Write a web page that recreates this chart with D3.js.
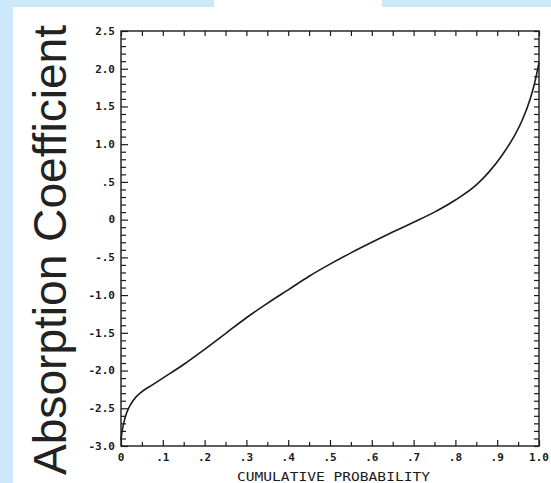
<!DOCTYPE html>
<html>
<head>
<meta charset="utf-8">
<script src="https://cdn.jsdelivr.net/npm/d3@7"></script>
<style>
  body { margin: 0; background: #fff; }
  svg { display: block; }
</style>
</head>
<body>
<div id="chart"></div>
<script>
// cumulative probability vs absorption coefficient
const prob = [0, 0.002, 0.01, 0.02, 0.03, 0.05, 0.075, 0.10, 0.15, 0.20, 0.25, 0.30, 0.35, 0.40, 0.45,
              0.50, 0.55, 0.60, 0.65, 0.70, 0.75, 0.80, 0.85, 0.88, 0.91, 0.94, 0.96, 0.98, 0.99, 1.0];
const coef = [-2.92, -2.83, -2.62, -2.48, -2.39, -2.28, -2.19, -2.10, -1.92, -1.72, -1.51, -1.30, -1.11, -0.93, -0.75,
              -0.59, -0.44, -0.30, -0.165, -0.035, 0.10, 0.26, 0.46, 0.63, 0.84, 1.10, 1.32, 1.62, 1.82, 2.08];
const xTicks = [0, .1, .2, .3, .4, .5, .6, .7, .8, .9, 1.0];
const xTickLabels = ["0", ".1", ".2", ".3", ".4", ".5", ".6", ".7", ".8", ".9", "1.0"];
const yTicks = [2.5, 2.0, 1.5, 1.0, 0.5, 0, -0.5, -1.0, -1.5, -2.0, -2.5, -3.0];
const yTickLabels = ["2.5", "2.0", "1.5", "1.0", ".5", "0", "-.5", "-1.0", "-1.5", "-2.0", "-2.5", "-3.0"];

const width = 551, height = 483;
const margins = {top: 31, right: 12, bottom: 37, left: 121};
const blue = "#cbe9fb";

const svg = d3.select("#chart")
    .append("svg")
    .attr("width", width)
    .attr("height", height);

/* background strips of the scanned page */
svg.append("rect").attr("x", 0).attr("y", 0).attr("width", 13).attr("height", height).attr("fill", blue);
svg.append("rect").attr("x", 0).attr("y", 0).attr("width", 214).attr("height", 7).attr("fill", blue);
svg.append("rect").attr("x", 382).attr("y", 0).attr("width", width - 382).attr("height", 7).attr("fill", blue);

const xScale = d3.scaleLinear()
    .domain([0, 1])
    .range([margins.left, width - margins.right]);
const yScale = d3.scaleLinear()
    .domain([-3, 2.5])
    .range([height - margins.bottom, margins.top]);

const ink = "#1a1a1a";
const monoFont = "'DejaVu Sans Mono', monospace";

// inward ticks on all four sides
const xMinor = d3.range(0, 1.0001, 0.05);
const yMinor = d3.range(-3, 2.5001, 0.1);

const bottomAxis = d3.axisTop(xScale).tickValues(xMinor).tickSize(4).tickFormat("");
svg.append("g")
    .attr("transform", `translate(0,${yScale(-3)})`)
    .call(bottomAxis)
    .call(g => g.select(".domain").remove())
    .call(g => g.selectAll(".tick line")
        .attr("y2", (d, i) => i % 2 === 0 ? -6 : -4)
        .attr("stroke", ink).attr("stroke-width", 1.2));

const topAxis = d3.axisBottom(xScale).tickValues(xMinor).tickSize(5).tickFormat("");
svg.append("g")
    .attr("transform", `translate(0,${yScale(2.5)})`)
    .call(topAxis)
    .call(g => g.select(".domain").remove())
    .call(g => g.selectAll(".tick line").attr("stroke", ink).attr("stroke-width", 1.2));

const leftAxis = d3.axisRight(yScale).tickValues(yMinor).tickSize(5).tickFormat("");
svg.append("g")
    .attr("transform", `translate(${xScale(0)},0)`)
    .call(leftAxis)
    .call(g => g.select(".domain").remove())
    .call(g => g.selectAll(".tick line")
        .attr("x2", (d, i) => i % 5 === 0 ? 7 : 5)
        .attr("stroke", ink).attr("stroke-width", 1.2));

const rightAxis = d3.axisLeft(yScale).tickValues(yMinor).tickSize(5).tickFormat("");
svg.append("g")
    .attr("transform", `translate(${xScale(1)},0)`)
    .call(rightAxis)
    .call(g => g.select(".domain").remove())
    .call(g => g.selectAll(".tick line").attr("stroke", ink).attr("stroke-width", 1.2));

// frame
svg.append("rect")
    .attr("x", xScale(0))
    .attr("y", yScale(2.5))
    .attr("width", xScale(1) - xScale(0))
    .attr("height", yScale(-3) - yScale(2.5))
    .attr("fill", "none")
    .attr("stroke", ink)
    .attr("stroke-width", 1.4);

// tick labels
svg.append("g")
    .selectAll("text")
    .data(yTicks)
    .join("text")
    .attr("x", xScale(0) - 6)
    .attr("y", d => yScale(d))
    .attr("dy", "0.35em")
    .attr("text-anchor", "end")
    .style("font-family", monoFont)
    .style("font-weight", "bold")
    .style("font-size", "11px")
    .style("fill", ink)
    .text((d, i) => yTickLabels[i]);

svg.append("g")
    .selectAll("text")
    .data(xTicks)
    .join("text")
    .attr("x", d => xScale(d))
    .attr("y", yScale(-3) + 15)
    .attr("text-anchor", "middle")
    .style("font-family", monoFont)
    .style("font-weight", "bold")
    .style("font-size", "11px")
    .style("fill", ink)
    .text((d, i) => xTickLabels[i]);

// axis titles
svg.append("text")
    .attr("x", 237)
    .attr("y", 481)
    .attr("textLength", 193)
    .attr("lengthAdjust", "spacingAndGlyphs")
    .style("font-family", monoFont)
    .style("font-size", "12px")
    .style("fill", ink)
    .text("CUMULATIVE PROBABILITY");

svg.append("text")
    .attr("transform", "translate(66,475) rotate(-90)")
    .attr("x", 0)
    .attr("y", 0)
    .attr("textLength", 450)
    .attr("lengthAdjust", "spacingAndGlyphs")
    .style("font-family", "'Liberation Sans', Arial, sans-serif")
    .style("font-size", "46px")
    .style("fill", "#222")
    .text("Absorption Coefficient");

/* the curve */
const pts = prob.map((p, i) => ({p: p, v: coef[i]}));
const line = d3.line()
    .curve(d3.curveMonotoneX)
    .x(d => xScale(d.p))
    .y(d => yScale(d.v));

svg.append("path")
    .datum(pts)
    .attr("d", line)
    .attr("fill", "none")
    .attr("stroke", ink)
    .attr("stroke-width", 1.6);
</script>
</body>
</html>
